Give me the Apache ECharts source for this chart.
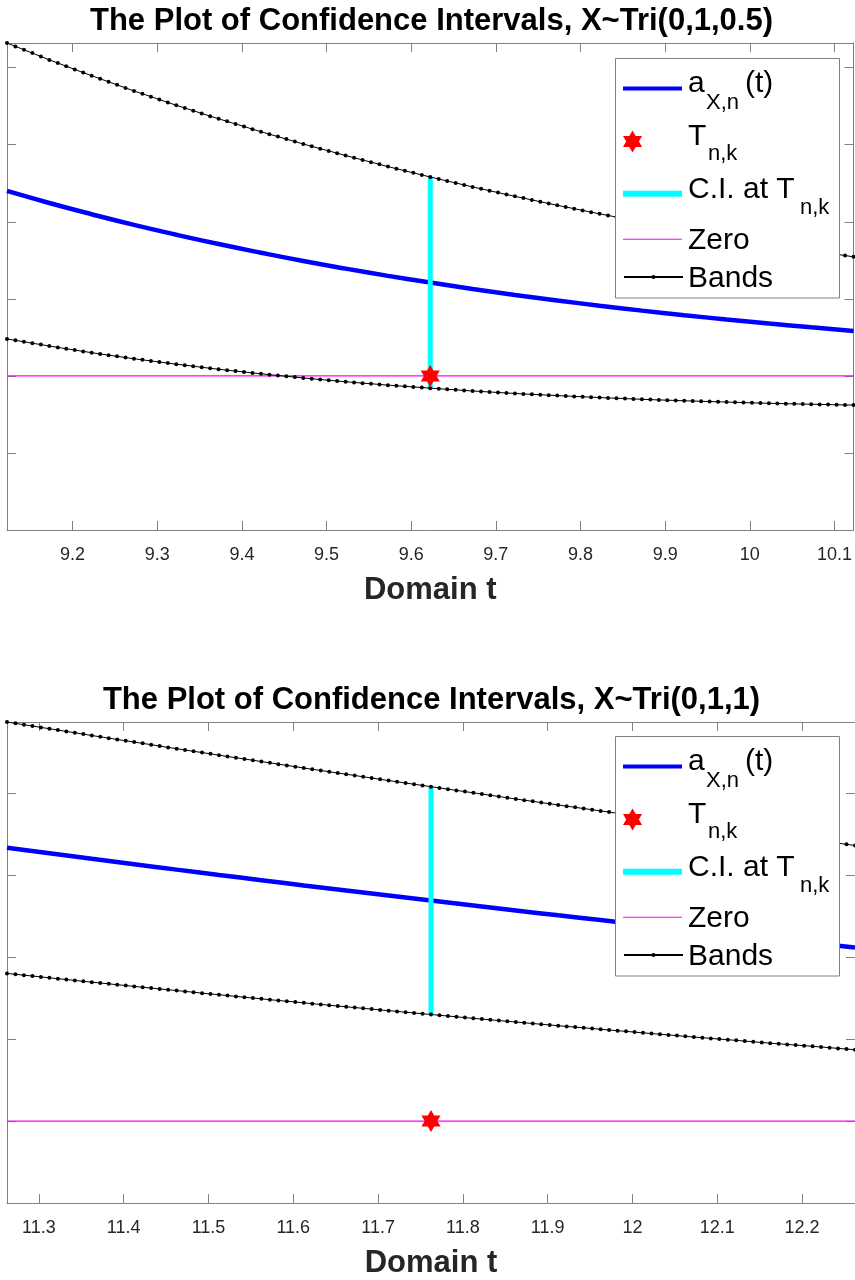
<!DOCTYPE html>
<html>
<head>
<meta charset="utf-8">
<title>Confidence intervals</title>
<script src="https://cdn.jsdelivr.net/npm/echarts@6/dist/echarts.min.js"></script>
<style>
  html, body { margin: 0; padding: 0; background: #fff; }
  #chart { width: 855px; height: 1280px; }
</style>
</head>
<body>
<div id="chart"></div>
<script>
// values; y is in tick units (tick labels are cropped), 0 = the zero line
const titles = [
  "The Plot of Confidence Intervals, X~Tri(0,1,0.5)",
  "The Plot of Confidence Intervals, X~Tri(0,1,1)",
];
const tPoint = [9.6225, 11.7624]; // T_{n,k}, plot spans T-0.5 .. T+0.5
const halfSpan = 0.5;
const bandStep = 0.01; // bands carry a marker every 0.01
const curveStep = 0.05;
const yMin = [-2, -1];
const yMax = [4.32, 4.874];

// a_{X,n}(t), every 0.05
const curve1 = [2.400, 2.244, 2.098, 1.960, 1.832, 1.711, 1.598, 1.491, 1.392, 1.298, 1.211,
  1.128, 1.051, 0.979, 0.911, 0.847, 0.788, 0.732, 0.679, 0.630, 0.583];
const curve2 = [3.339, 3.271, 3.203, 3.137, 3.071, 3.006, 2.942, 2.878, 2.816, 2.754, 2.693,
  2.632, 2.572, 2.513, 2.455, 2.397, 2.340, 2.284, 2.228, 2.174, 2.119];

// upper / lower bands, every 0.01
const upper1 = [
  4.320, 4.276, 4.232, 4.189, 4.145, 4.101, 4.060, 4.019, 3.977, 3.936,
  3.895, 3.856, 3.816, 3.777, 3.737, 3.698, 3.661, 3.624, 3.586, 3.549,
  3.512, 3.477, 3.442, 3.406, 3.371, 3.336, 3.303, 3.269, 3.236, 3.202,
  3.169, 3.137, 3.105, 3.073, 3.041, 3.009, 2.979, 2.949, 2.920, 2.890,
  2.860, 2.831, 2.802, 2.774, 2.745, 2.716, 2.689, 2.662, 2.635, 2.608,
  2.581, 2.555, 2.529, 2.504, 2.478, 2.452, 2.428, 2.403, 2.379, 2.354,
  2.330, 2.307, 2.284, 2.260, 2.237, 2.214, 2.192, 2.170, 2.147, 2.125,
  2.103, 2.082, 2.061, 2.040, 2.019, 1.998, 1.978, 1.958, 1.939, 1.919,
  1.899, 1.880, 1.861, 1.842, 1.823, 1.804, 1.786, 1.768, 1.750, 1.732,
  1.714, 1.697, 1.680, 1.662, 1.645, 1.628, 1.611, 1.595, 1.578, 1.562,
  1.545];
const lower1 = [
  0.480, 0.461, 0.443, 0.424, 0.406, 0.387, 0.370, 0.353, 0.335, 0.318,
  0.301, 0.285, 0.269, 0.254, 0.238, 0.222, 0.208, 0.194, 0.180, 0.166,
  0.152, 0.139, 0.126, 0.112, 0.099, 0.086, 0.074, 0.062, 0.051, 0.039,
  0.027, 0.016, 0.005, -0.005, -0.016, -0.027, -0.037, -0.047, -0.056, -0.066,
  -0.076, -0.085, -0.094, -0.102, -0.111, -0.120, -0.128, -0.136, -0.143, -0.151,
  -0.159, -0.166, -0.174, -0.181, -0.189, -0.196, -0.202, -0.209, -0.215, -0.222,
  -0.228, -0.234, -0.239, -0.245, -0.250, -0.256, -0.261, -0.266, -0.271, -0.276,
  -0.281, -0.286, -0.290, -0.295, -0.299, -0.304, -0.308, -0.312, -0.315, -0.319,
  -0.323, -0.326, -0.330, -0.333, -0.336, -0.340, -0.343, -0.346, -0.350, -0.353,
  -0.356, -0.358, -0.361, -0.363, -0.366, -0.368, -0.370, -0.372, -0.375, -0.377,
  -0.379];
const upper2 = [
  4.874, 4.858, 4.841, 4.825, 4.808, 4.792, 4.775, 4.759, 4.742, 4.726,
  4.709, 4.693, 4.677, 4.661, 4.645, 4.629, 4.613, 4.597, 4.580, 4.564,
  4.548, 4.532, 4.516, 4.501, 4.485, 4.469, 4.453, 4.438, 4.422, 4.407,
  4.391, 4.375, 4.359, 4.344, 4.328, 4.312, 4.297, 4.282, 4.266, 4.251,
  4.236, 4.221, 4.205, 4.190, 4.174, 4.159, 4.144, 4.129, 4.114, 4.099,
  4.084, 4.069, 4.054, 4.039, 4.024, 4.009, 3.994, 3.979, 3.964, 3.949,
  3.934, 3.919, 3.905, 3.890, 3.876, 3.861, 3.846, 3.832, 3.817, 3.803,
  3.788, 3.774, 3.759, 3.745, 3.730, 3.716, 3.702, 3.688, 3.673, 3.659,
  3.645, 3.631, 3.617, 3.602, 3.588, 3.574, 3.560, 3.546, 3.532, 3.518,
  3.504, 3.490, 3.476, 3.463, 3.449, 3.435, 3.421, 3.407, 3.394, 3.380,
  3.366];
const lower2 = [
  1.804, 1.793, 1.782, 1.772, 1.761, 1.750, 1.739, 1.729, 1.718, 1.707,
  1.697, 1.687, 1.676, 1.666, 1.655, 1.645, 1.635, 1.625, 1.614, 1.604,
  1.594, 1.584, 1.574, 1.563, 1.553, 1.543, 1.533, 1.523, 1.513, 1.503,
  1.493, 1.483, 1.473, 1.464, 1.454, 1.444, 1.434, 1.425, 1.415, 1.406,
  1.396, 1.387, 1.377, 1.368, 1.358, 1.349, 1.340, 1.330, 1.321, 1.311,
  1.302, 1.293, 1.283, 1.274, 1.264, 1.255, 1.246, 1.237, 1.228, 1.219,
  1.210, 1.201, 1.192, 1.183, 1.174, 1.165, 1.156, 1.148, 1.139, 1.131,
  1.122, 1.113, 1.104, 1.096, 1.087, 1.078, 1.069, 1.061, 1.052, 1.044,
  1.035, 1.027, 1.019, 1.010, 1.002, 0.994, 0.986, 0.977, 0.969, 0.960,
  0.952, 0.944, 0.936, 0.929, 0.921, 0.913, 0.905, 0.897, 0.888, 0.880,
  0.872];

const curves = [curve1, curve2];
const uppers = [upper1, upper2];
const lowers = [lower1, lower2];

// layout of the two axes boxes (px)
const gridTop = [43, 722];
const gridH = [487, 486];
const gridLeft = 7;
const gridW = 850;
const legendBoxTop = [59, 737];

const FONT = "Liberation Sans, Arial, Helvetica, sans-serif";
const AXIS_GREY = "#808080";
const HEX = "path://M0,-10L2.887,-5L8.66,-5L5.774,0L8.66,5L2.887,5L0,10L-2.887,5L-8.66,5L-5.774,0L-8.66,-5L-2.887,-5Z";

// legend rows: icon centre offset from box top, icon height, and the label pieces
// (main text / subscript / trailing text) with their x and middle-y offsets
const legendRows = [
  { name: "a", icon: "rect", ih: 4, dy: 29.6,
    parts: [["a", 688, 24.3, 30], ["X,n", 706, 43.7, 22], ["(t)", 745, 24.3, 30]] },
  { name: "T", icon: null, ih: 22, dy: 82.5,
    parts: [["T", 688, 77.3, 30], ["n,k", 708, 95.4, 22]] },
  { name: "CI", icon: "rect", ih: 6, dy: 134.7,
    parts: [["C.I. at T", 688, 130.6, 30], ["n,k", 800, 148.7, 22]] },
  { name: "Zero", icon: "rect", ih: 1, dy: 180.3,
    parts: [["Zero", 688, 181.3, 30]] },
  { name: "Bands", icon: null, ih: 5, dy: 218.6,
    parts: [["Bands", 688, 219.3, 30]] },
];

const toPairs = (vals, start, step) => vals.map((v, i) => [start + i * step, v]);

const grids = [], xAxes = [], yAxes = [], series = [], legends = [], graphics = [], titleList = [];

const tickStyle = { inside: true, length: 9, lineStyle: { color: AXIS_GREY, width: 1 } };
const axisLineStyle = { onZero: false, lineStyle: { color: AXIS_GREY, width: 1 } };

for (let c = 0; c < 2; c++) {
  const t0 = tPoint[c] - halfSpan;
  const t1 = tPoint[c] + halfSpan;
  grids.push({ left: gridLeft, top: gridTop[c], width: gridW, height: gridH[c], containLabel: false });

  const xCommon = {
    gridIndex: c, type: "value", min: t0, max: t1,
    splitNumber: 10, minInterval: 0.1, maxInterval: 0.1,
    splitLine: { show: false }, axisLine: axisLineStyle, axisTick: tickStyle,
  };
  xAxes.push(Object.assign({}, xCommon, {
    position: "bottom",
    axisLabel: {
      color: "#262626", fontSize: 18, fontFamily: FONT, margin: 16,
      showMinLabel: false, showMaxLabel: false,
    },
    name: "Domain t", nameLocation: "middle", nameGap: 45,
    nameTextStyle: { color: "#262626", fontSize: 31, fontWeight: "bold", fontFamily: FONT },
  }));
  xAxes.push(Object.assign({}, xCommon, { position: "top", axisLabel: { show: false } }));

  const yCommon = {
    gridIndex: c, type: "value", min: yMin[c], max: yMax[c], interval: 1,
    splitLine: { show: false }, axisLine: axisLineStyle, axisTick: tickStyle,
    axisLabel: { show: false },
  };
  yAxes.push(Object.assign({}, yCommon, { position: "left" }));
  yAxes.push(Object.assign({}, yCommon, { position: "right" }));

  const xi = c * 2, yi = c * 2;
  const mid = Math.round(halfSpan / bandStep);
  series.push({
    name: "a", type: "line", xAxisIndex: xi, yAxisIndex: yi, symbol: "none", smooth: true,
    lineStyle: { color: "#0000ff", width: 4.5 }, itemStyle: { color: "#0000ff" },
    data: toPairs(curves[c], t0, curveStep), z: 2,
  });
  series.push({
    name: "CI", type: "line", xAxisIndex: xi, yAxisIndex: yi, symbol: "none",
    lineStyle: { color: "#00ffff", width: 5 }, itemStyle: { color: "#00ffff" },
    data: [[tPoint[c], lowers[c][mid]], [tPoint[c], uppers[c][mid]]], z: 2,
  });
  series.push({
    name: "Zero", type: "line", xAxisIndex: xi, yAxisIndex: yi, symbol: "none",
    lineStyle: { color: "#ff00ff", width: 1.2 }, itemStyle: { color: "#ff00ff" },
    data: [[t0, 0], [t1, 0]], z: 2,
  });
  [uppers[c], lowers[c]].forEach((band) => {
    series.push({
      name: "Bands", type: "line", xAxisIndex: xi, yAxisIndex: yi,
      symbol: "circle", symbolSize: 4, showSymbol: true, showAllSymbol: true,
      lineStyle: { color: "#000", width: 1 }, itemStyle: { color: "#000" },
      data: toPairs(band, t0, bandStep), z: 3,
    });
  });
  series.push({
    name: "T", type: "scatter", xAxisIndex: xi, yAxisIndex: yi,
    symbol: HEX, symbolSize: 22, symbolKeepAspect: true,
    itemStyle: { color: "#ff0000", opacity: 1 },
    data: [[tPoint[c], 0]], z: 4,
  });

  // legend: box, icons from the series, labels with subscripts as text
  graphics.push({
    type: "rect", z: 9,
    shape: { x: 615.5, y: legendBoxTop[c] - 0.5, width: 224, height: 239.5 },
    style: { fill: "#fff", stroke: AXIS_GREY, lineWidth: 1 },
  });
  legendRows.forEach((row) => {
    const centre = legendBoxTop[c] + row.dy;
    const item = row.icon ? { name: row.name, icon: row.icon } : { name: row.name };
    legends.push({
      data: [item], left: 623, top: centre - row.ih / 2, padding: 0,
      itemWidth: 59, itemHeight: row.ih, itemGap: 0, selectedMode: false,
      symbolKeepAspect: true, z: 10,
      formatter: () => "",
      textStyle: { fontSize: 1, lineHeight: 1 },
    });
    row.parts.forEach(([txt, x, dy, size]) => {
      graphics.push({
        type: "text", z: 11, x: x, y: legendBoxTop[c] + dy,
        style: {
          text: txt, fill: "#000", font: size + "px " + FONT,
          align: "left", verticalAlign: "middle",
        },
      });
    });
  });

  titleList.push({
    text: titles[c], left: gridLeft + gridW / 2 - 0.5, textAlign: "center",
    top: gridTop[c] - 37, padding: 0,
    textStyle: { fontSize: 31, fontWeight: "bold", color: "#000", fontFamily: FONT },
  });
}

const chart = echarts.init(document.getElementById("chart"), null, { renderer: "canvas" });
chart.setOption({
  animation: false,
  backgroundColor: "#fff",
  title: titleList,
  grid: grids,
  xAxis: xAxes,
  yAxis: yAxes,
  legend: legends,
  graphic: graphics,
  series: series,
});
</script>
</body>
</html>
